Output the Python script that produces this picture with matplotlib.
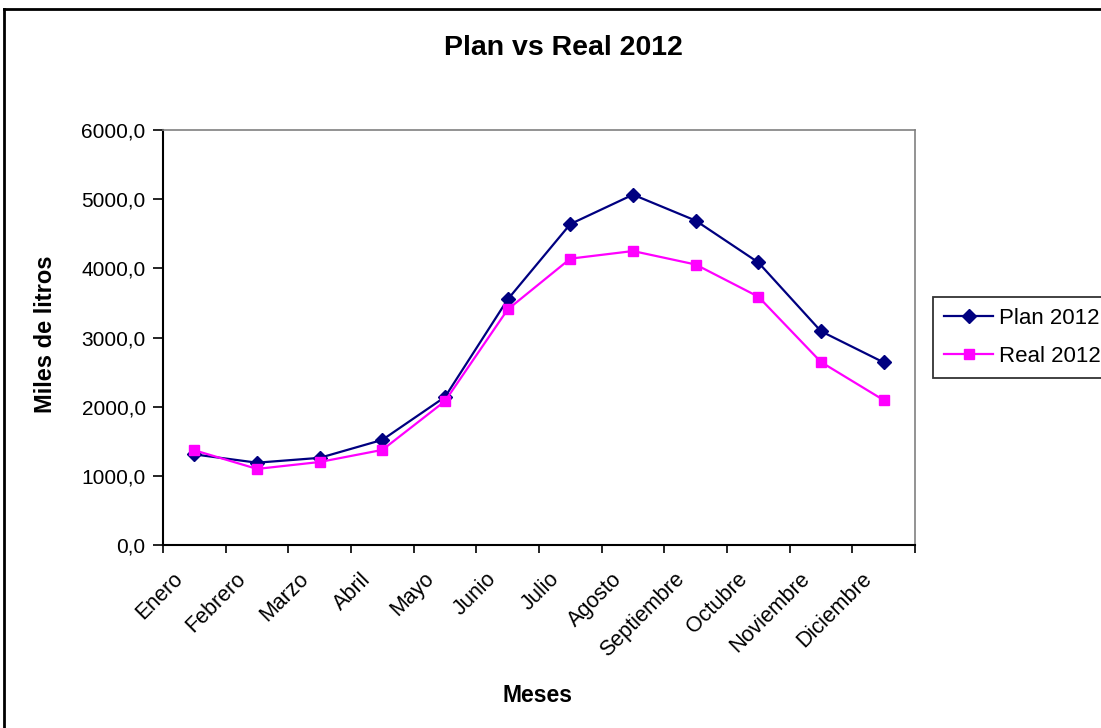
import matplotlib.pyplot as plt
from matplotlib.lines import Line2D
from matplotlib.ticker import FuncFormatter
from matplotlib.transforms import ScaledTranslation

plt.rcParams['font.family'] = ['Liberation Sans', 'DejaVu Sans']

meses = ['Enero', 'Febrero', 'Marzo', 'Abril', 'Mayo', 'Junio', 'Julio',
         'Agosto', 'Septiembre', 'Octubre', 'Noviembre', 'Diciembre']
plan_2012 = [1310, 1190, 1260, 1520, 2140, 3550, 4640, 5065, 4690, 4085, 3090, 2640]
real_2012 = [1370, 1100, 1200, 1375, 2080, 3405, 4140, 4250, 4055, 3590, 2645, 2095]

fig = plt.figure(figsize=(11.01, 7.28), dpi=100)
ax = fig.add_axes([163 / 1101, 1 - 545 / 728, (915 - 163) / 1101, (545 - 130) / 728])

x = list(range(len(meses)))
ax.plot(x, plan_2012, color='#000080', lw=1.6, marker='D', ms=7.5, label='Plan 2012')
ax.plot(x, real_2012, color='#FF00FF', lw=1.6, marker='s', ms=7.5, label='Real 2012')

ax.set_xlim(-0.5, len(meses) - 0.5)
ax.set_ylim(0, 6000)
ax.set_yticks(range(0, 6001, 1000))
ax.yaxis.set_major_formatter(FuncFormatter(lambda v, p: f'{v:.1f}'.replace('.', ',')))

# ticks between categories, labels at the centres
ax.set_xticks([i - 0.5 for i in range(len(meses) + 1)])
ax.set_xticklabels([])
ax.set_xticks(x, minor=True)
ax.set_xticklabels(meses, minor=True, rotation=45, ha='right', rotation_mode='anchor')
ax.tick_params(axis='x', which='minor', length=0, pad=17, labelsize=15.5)
ax.tick_params(axis='x', which='major', length=6, width=1.2, color='black')
ax.tick_params(axis='y', length=7, width=1.2, labelsize=15, pad=5.5)
shift = ScaledTranslation(-22 / 100, 0, fig.dpi_scale_trans)
for lab in ax.get_xticklabels(minor=True):
    lab.set_transform(lab.get_transform() + shift)

for s in ['left', 'bottom']:
    ax.spines[s].set_color('black')
    ax.spines[s].set_linewidth(1.5)
for s in ['top', 'right']:
    ax.spines[s].set_color('#808080')
    ax.spines[s].set_linewidth(1.2)

fig.text(563 / 1101, 1 - 48 / 728, 'Plan vs Real 2012', fontsize=20.5, fontweight='bold',
         ha='center', va='center')
fig.text(46 / 1101, 1 - 334 / 728, 'Miles de litros', fontsize=17, fontweight='bold',
         rotation=90, ha='center', va='center')
fig.text(538 / 1101, 1 - 696 / 728, 'Meses', fontsize=16.5, fontweight='bold',
         ha='center', va='center')

leg = ax.legend(loc='upper left', bbox_to_anchor=(933 / 1101, 1 - 297 / 728),
                bbox_transform=fig.transFigure, fontsize=16, frameon=True, fancybox=False,
                edgecolor='black', handlelength=2.2, borderpad=0.5, labelspacing=0.76,
                handletextpad=0.27, borderaxespad=0)
leg.get_frame().set_linewidth(1.3)

fig.add_artist(Line2D([3.5 / 1101, 3.5 / 1101], [0, 1 - 9 / 728], color='black', lw=2, transform=fig.transFigure))
fig.add_artist(Line2D([3.5 / 1101, 1], [1 - 9 / 728, 1 - 9 / 728], color='black', lw=2, transform=fig.transFigure))

fig.savefig('out.png', dpi=100)
